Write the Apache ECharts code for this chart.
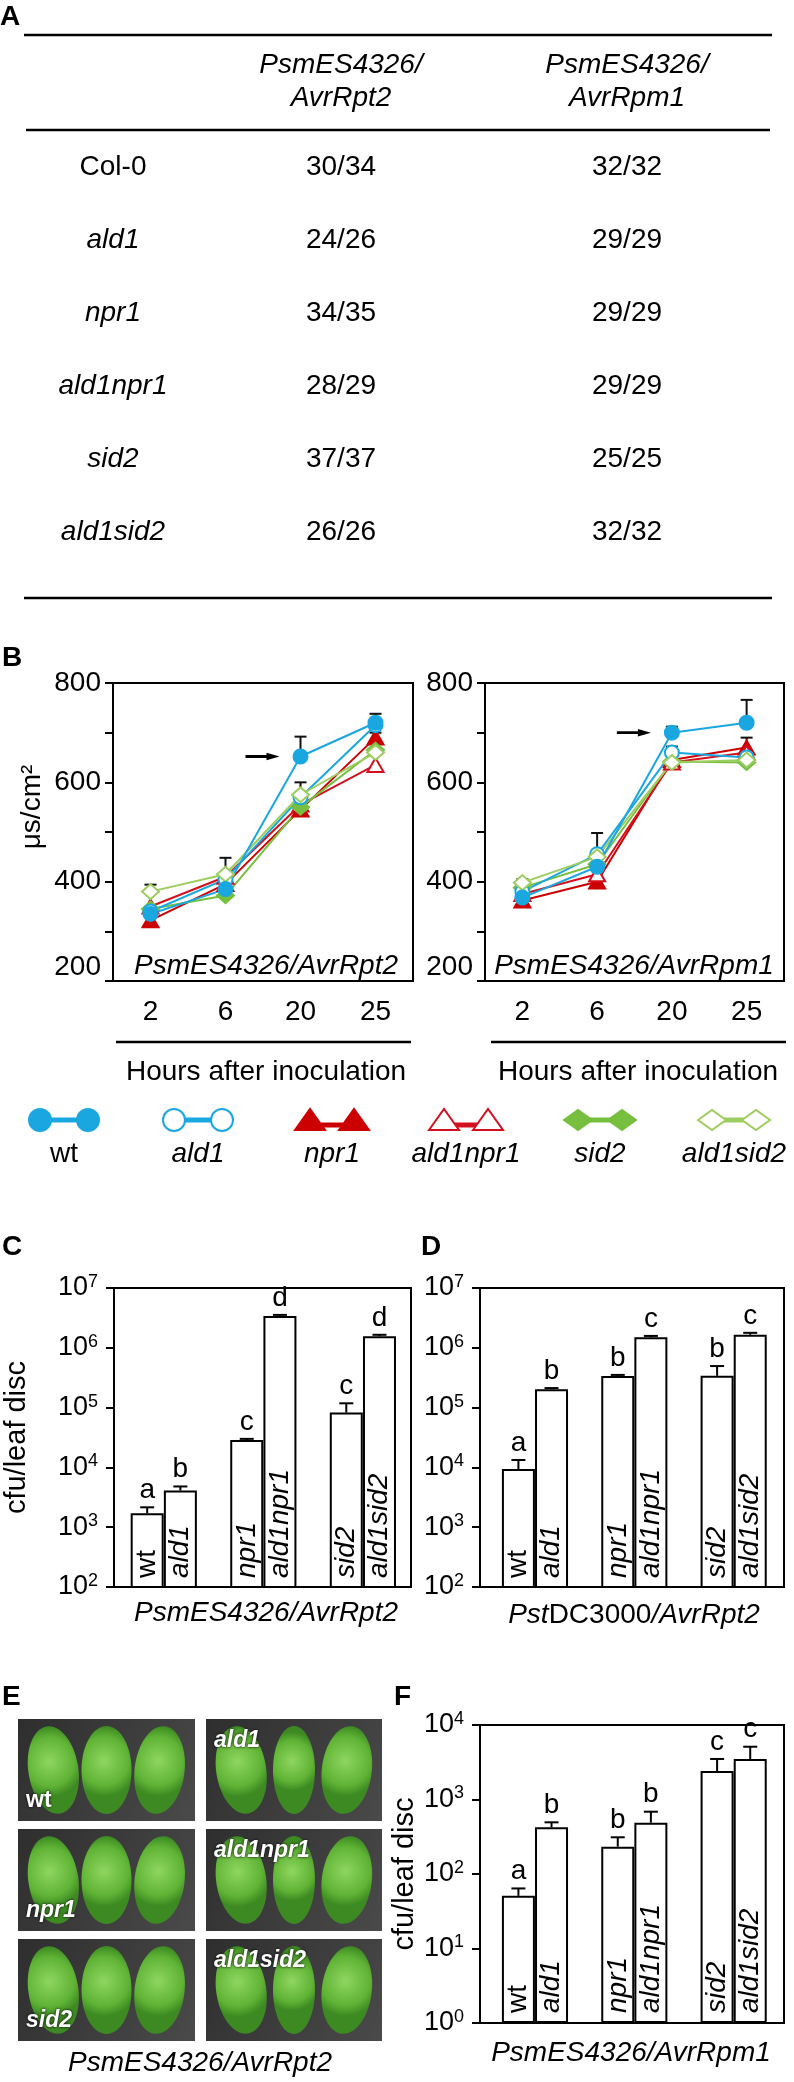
<!DOCTYPE html>
<html>
<head>
<meta charset="utf-8">
<script src="https://cdn.jsdelivr.net/npm/echarts@6/dist/echarts.min.js"></script>
<style>
html,body{margin:0;padding:0;background:#fff;}
#fig{width:794px;height:2082px;}
</style>
</head>
<body>
<div id="fig"></div>
<script>
// ---- table (A) ----
var tableRows = ['Col-0', 'ald1', 'npr1', 'ald1npr1', 'sid2', 'ald1sid2'];
var tableRpt2 = ['30/34', '24/26', '34/35', '28/29', '37/37', '26/26'];
var tableRpm1 = ['32/32', '29/29', '29/29', '29/29', '25/25', '32/32'];

// ---- conductivity (B), order of genotypes ----
var genotypes = ['wt', 'ald1', 'npr1', 'ald1npr1', 'sid2', 'ald1sid2'];
var hours = ['2', '6', '20', '25'];

var rpt2Wt       = [335, 385, 652, 720];
var rpt2Ald1     = [340, 405, 570, 715];
var rpt2Npr1     = [322, 395, 545, 690];
var rpt2Ald1npr1 = [350, 410, 555, 635];
var rpt2Sid2     = [345, 372, 550, 665];
var rpt2Ald1sid2 = [380, 415, 575, 660];

var rpm1Wt       = [368, 430, 700, 720];
var rpm1Ald1     = [380, 455, 660, 650];
var rpm1Npr1     = [362, 400, 645, 670];
var rpm1Ald1npr1 = [375, 415, 640, 660];
var rpm1Sid2     = [388, 435, 642, 640];
var rpm1Ald1sid2 = [398, 450, 640, 645];

// upper error ends: [genotype, hour index, top]
var rpt2Err = [[0, 2, 692], [1, 3, 738], [5, 0, 394], [5, 1, 448], [1, 2, 600], [2, 3, 700]];
var rpm1Err = [[0, 3, 766], [0, 2, 712], [1, 1, 498], [5, 0, 405], [2, 3, 690], [1, 2, 672]];

// ---- bacterial growth (C, D, F) ----
var cMean = [1710, 4100, 28600, 3.4e6, 82600, 1.56e6];
var cTop  = [2150, 4800, 30000, 3.55e6, 118000, 1.65e6];
var cLetters = ['a', 'b', 'c', 'd', 'c', 'd'];

var dMean = [9400, 203000, 337000, 1.5e6, 340000, 1.65e6];
var dTop  = [13300, 212000, 352000, 1.58e6, 495000, 1.78e6];
var dLetters = ['a', 'b', 'b', 'c', 'b', 'c'];

var fMean = [51, 424, 233, 488, 2415, 3500];
var fTop  = [64, 494, 311, 686, 3500, 5110];
var fLetters = ['a', 'b', 'b', 'b', 'c', 'c'];

// ---- styles ----
var FONT = '"Liberation Sans", Arial, Helvetica, sans-serif';
var genoColor  = ['#1aa7e0', '#1aa7e0', '#cc0000', '#d3101e', '#76bf3f', '#9dcd5f'];
var genoSymbol = ['circle', 'circle', 'triangle', 'triangle', 'diamond', 'diamond'];
var genoFilled = [true, false, true, false, true, false];
var drawOrder  = [2, 3, 4, 1, 5, 0];

var rpt2Sets = [rpt2Wt, rpt2Ald1, rpt2Npr1, rpt2Ald1npr1, rpt2Sid2, rpt2Ald1sid2];
var rpm1Sets = [rpm1Wt, rpm1Ald1, rpm1Npr1, rpm1Ald1npr1, rpm1Sid2, rpm1Ald1sid2];

var chart = echarts.init(document.getElementById('fig'));

var grids = [
  {left: 113, top: 683, width: 300, height: 298},
  {left: 485, top: 683, width: 299, height: 298},
  {left: 114, top: 1288, width: 297, height: 299},
  {left: 480, top: 1288, width: 304, height: 299},
  {left: 480, top: 1725, width: 304, height: 298}
].map(function (g) {
  return Object.assign({show: true, borderColor: '#000', borderWidth: 2, containLabel: false}, g);
});

var axisLineStyle = {show: true, onZero: false, lineStyle: {color: '#000', width: 2}};
var tickStyle = {show: true, length: 8, inside: false, lineStyle: {color: '#000', width: 2}};

function hourAxis(gi) {
  return {type: 'category', gridIndex: gi, data: hours, boundaryGap: true,
    axisLine: {show: false}, axisTick: {show: false},
    axisLabel: {fontSize: 28, color: '#000', margin: 17, fontFamily: FONT}};
}
function slotAxis(gi, min, max) {
  return {type: 'value', gridIndex: gi, min: min, max: max, show: false};
}

function msAxis(gi) {
  return {type: 'value', gridIndex: gi, min: 200, max: 800, interval: 100,
    axisLine: axisLineStyle, axisTick: tickStyle, splitLine: {show: false},
    axisLabel: {fontSize: 28, color: '#000', margin: 12, fontFamily: FONT,
      formatter: function (v) {
        if (v % 200 !== 0) return '';
        return v === 200 ? '{lo|200}' : String(v);
      },
      rich: {lo: {fontSize: 28, fontFamily: FONT, color: '#000', padding: [0, 0, 28, 0]}}}};
}

function supLabel(v) {
  var e = Math.round(Math.log(v) / Math.LN10);
  return '{b|10}{s|' + e + '}';
}
var supRich = {
  b: {fontSize: 27, fontFamily: FONT, color: '#000', lineHeight: 30},
  s: {fontSize: 18, fontFamily: FONT, color: '#000', verticalAlign: 'top', lineHeight: 30}
};
function logAxis(gi, min, max, name, gap) {
  var a = {type: 'log', logBase: 10, gridIndex: gi, min: min, max: max,
    axisLine: axisLineStyle, axisTick: tickStyle, splitLine: {show: false},
    minorTick: {show: false},
    axisLabel: {formatter: supLabel, rich: supRich, margin: 16}};
  if (name) {
    a.name = name; a.nameLocation = 'middle'; a.nameGap = gap; a.nameRotate = 90;
    a.nameTextStyle = {fontSize: 29, color: '#000', fontFamily: FONT};
  }
  return a;
}

var xAxes = [hourAxis(0), hourAxis(1), slotAxis(2, -0.5, 8.45), slotAxis(3, -0.66, 8.52), slotAxis(4, -0.66, 8.52)];
var yAxes = [msAxis(0), msAxis(1),
  logAxis(2, 100, 1e7, 'cfu/leaf disc', 83),
  logAxis(3, 100, 1e7, null, 0),
  logAxis(4, 1, 1e4, 'cfu/leaf disc', 61)];

var series = [];

// B: time courses
function addTimeCourse(gi, sets, errs, arrowIdx) {
  series.push({
    type: 'custom', xAxisIndex: gi, yAxisIndex: gi, z: 1,
    data: errs.map(function (e) { return [e[1], sets[e[0]][e[1]], e[2]]; }),
    encode: {x: 0, y: [1, 2]},
    renderItem: function (params, api) {
      var p0 = api.coord([api.value(0), api.value(1)]);
      var p1 = api.coord([api.value(0), api.value(2)]);
      return {type: 'group', children: [
        {type: 'line', shape: {x1: p0[0], y1: p0[1], x2: p1[0], y2: p1[1]}, style: {stroke: '#111', lineWidth: 2}},
        {type: 'line', shape: {x1: p1[0] - 6, y1: p1[1], x2: p1[0] + 6, y2: p1[1]}, style: {stroke: '#111', lineWidth: 2}}
      ]};
    }
  });
  drawOrder.forEach(function (g) {
    var s = {
      type: 'line', name: genotypes[g], xAxisIndex: gi, yAxisIndex: gi, z: 2,
      data: sets[g], symbol: genoSymbol[g],
      symbolSize: genoSymbol[g] === 'diamond' ? [17, 15] : (genoSymbol[g] === 'triangle' ? [16, 14] : 14),
      showAllSymbol: true,
      lineStyle: {color: genoColor[g], width: 2},
      itemStyle: {color: genoFilled[g] ? genoColor[g] : '#fff', borderColor: genoColor[g], borderWidth: 2}
    };
    if (g === 0) {
      s.markPoint = {
        symbol: 'path://M0,5L21,5L21,0L34,8L21,16L21,11L0,11Z',
        symbolSize: [34, 16], symbolOffset: [-38, 0], symbolKeepAspect: true,
        itemStyle: {color: '#000'}, label: {show: false},
        data: [{coord: [arrowIdx, sets[0][arrowIdx]]}]
      };
    }
    series.push(s);
  });
}
addTimeCourse(0, rpt2Sets, rpt2Err, 2);
addTimeCourse(1, rpm1Sets, rpm1Err, 2);

// C, D, F: bars with upper error bars and letters
function slotX(i) { return Math.floor(i / 2) * 3 + (i % 2) + 0.5; }

function addBars(gi, means, tops, letters) {
  series.push({
    type: 'bar', xAxisIndex: gi, yAxisIndex: gi, barWidth: 33, z: 2,
    data: means.map(function (v, i) { return [slotX(i), v]; }),
    itemStyle: {color: '#fff', borderColor: '#000', borderWidth: 2},
    label: {
      show: true, position: 'insideBottom', rotate: 90, align: 'left', verticalAlign: 'middle', distance: 10,
      formatter: function (p) {
        var n = genotypes[p.dataIndex];
        return n === 'wt' ? '{n|wt}' : '{i|' + n + '}';
      },
      rich: {
        n: {fontSize: 28, fontFamily: FONT, color: '#000'},
        i: {fontSize: 28, fontFamily: FONT, color: '#000', fontStyle: 'italic'}
      }
    }
  });
  series.push({
    type: 'custom', xAxisIndex: gi, yAxisIndex: gi, z: 3,
    data: means.map(function (v, i) { return [slotX(i), v, tops[i]]; }),
    encode: {x: 0, y: [1, 2]},
    renderItem: function (params, api) {
      var p0 = api.coord([api.value(0), api.value(1)]);
      var p1 = api.coord([api.value(0), api.value(2)]);
      return {type: 'group', children: [
        {type: 'line', shape: {x1: p0[0], y1: p0[1], x2: p1[0], y2: p1[1]}, style: {stroke: '#000', lineWidth: 2}},
        {type: 'line', shape: {x1: p1[0] - 7, y1: p1[1], x2: p1[0] + 7, y2: p1[1]}, style: {stroke: '#000', lineWidth: 2}},
        {type: 'text', x: p1[0], y: p1[1] - 3, style: {text: letters[params.dataIndex], fill: '#000',
          fontSize: 28, fontFamily: FONT, align: 'center', verticalAlign: 'bottom'}}
      ]};
    }
  });
}
addBars(2, cMean, cTop, cLetters);
addBars(3, dMean, dTop, dLetters);
addBars(4, fMean, fTop, fLetters);

// ---- graphic: table, labels, legend, photos ----
var g = [];
var rich = {
  i: {fontSize: 28, fontFamily: FONT, fill: '#000', fontStyle: 'italic'},
  n: {fontSize: 28, fontFamily: FONT, fill: '#000'}
};
function gText(x, y, text, o) {
  o = o || {};
  return {type: 'text', x: x, y: y, rotation: o.rotation || 0, z: 10, silent: true,
    style: {text: text, fill: o.fill || '#000', fontSize: o.size || 28, fontFamily: FONT,
      fontStyle: o.italic ? 'italic' : 'normal', fontWeight: o.bold ? 'bold' : 'normal',
      align: o.align || 'center', verticalAlign: o.va || 'middle', rich: rich,
      textShadowColor: o.shadow || 'transparent', textShadowBlur: o.shadow ? 3 : 0}};
}
function gLine(x1, y1, x2, y2, w) {
  return {type: 'line', z: 10, silent: true, shape: {x1: x1, y1: y1, x2: x2, y2: y2}, style: {stroke: '#000', lineWidth: w || 2}};
}

// panel letters
[['A', 0, 17], ['B', 2, 658], ['C', 2, 1247], ['D', 421, 1247], ['E', 2, 1697], ['F', 394, 1697]].forEach(function (p) {
  g.push(gText(p[1], p[2], p[0], {bold: true, align: 'left'}));
});

// table A
g.push(gLine(24, 35, 772, 35, 2.5));
g.push(gLine(26, 130, 770, 130, 2.5));
g.push(gLine(24, 598, 772, 598, 2.5));
g.push(gText(341, 65, 'PsmES4326/', {italic: true}));
g.push(gText(341, 98, 'AvrRpt2', {italic: true}));
g.push(gText(627, 65, 'PsmES4326/', {italic: true}));
g.push(gText(627, 98, 'AvrRpm1', {italic: true}));
tableRows.forEach(function (r, i) {
  var y = 167 + i * 73;
  g.push(gText(113, y, r, {italic: r !== 'Col-0'}));
  g.push(gText(341, y, tableRpt2[i]));
  g.push(gText(627, y, tableRpm1[i]));
});

// B annotations
g.push(gText(32, 807, 'μs/cm²', {rotation: Math.PI / 2}));
g.push(gText(266, 966, 'PsmES4326/AvrRpt2', {italic: true}));
g.push(gText(634, 966, 'PsmES4326/AvrRpm1', {italic: true}));
g.push(gLine(116, 1042, 411, 1042, 2.5));
g.push(gLine(491, 1042, 786, 1042, 2.5));
g.push(gText(266, 1072, 'Hours after inoculation'));
g.push(gText(638, 1072, 'Hours after inoculation'));

// legend
genotypes.forEach(function (name, k) {
  var cx = 64 + k * 134, cy = 1120, d = genoSymbol[k] === 'circle' ? 24 : 22;
  var col = genoColor[k], fill = genoFilled[k] ? col : '#fff';
  var ly = genoSymbol[k] === 'triangle' ? cy + 5 : cy;
  g.push({type: 'line', z: 10, silent: true, shape: {x1: cx - d, y1: ly, x2: cx + d, y2: ly}, style: {stroke: col, lineWidth: 5}});
  [cx - d, cx + d].forEach(function (mx) {
    var el;
    if (genoSymbol[k] === 'circle') {
      el = {type: 'circle', shape: {cx: mx, cy: cy, r: 11}};
    } else if (genoSymbol[k] === 'triangle') {
      el = {type: 'polygon', shape: {points: [[mx - 15, cy + 10], [mx, cy - 11], [mx + 15, cy + 10]]}};
    } else {
      el = {type: 'polygon', shape: {points: [[mx - 14, cy], [mx, cy - 10], [mx + 14, cy], [mx, cy + 10]]}};
    }
    el.z = 11; el.silent = true;
    el.style = {fill: fill, stroke: col, lineWidth: 2};
    g.push(el);
  });
  g.push(gText(cx, 1154, name, {italic: name !== 'wt'}));
});

// captions
g.push(gText(266, 1613, 'PsmES4326/AvrRpt2', {italic: true}));
g.push(gText(634, 1615, '{i|Pst}{n|DC3000}{i|/AvrRpt2}'));
g.push(gText(631, 2053, 'PsmES4326/AvrRpm1', {italic: true}));
g.push(gText(200, 2063, 'PsmES4326/AvrRpt2', {italic: true}));

// E: leaf photographs (drawn schematically)
var photoX = [18, 206], photoW = [177, 176];
genotypes.forEach(function (name, k) {
  var col = k % 2, row = Math.floor(k / 2);
  var x = photoX[col], w = photoW[col], y = 1719 + row * 110, h = 102;
  g.push({type: 'rect', z: 5, silent: true, shape: {x: x, y: y, width: w, height: h},
    style: {fill: new echarts.graphic.LinearGradient(0, 0, 1, 1, [
      {offset: 0, color: '#2e2e2e'}, {offset: 1, color: '#4a4a4a'}])}});
  [0.2, 0.5, 0.8].forEach(function (fx, j) {
    g.push({type: 'ellipse', z: 6, silent: true, x: x + w * fx, y: y + h * 0.5,
      rotation: [0.15, 0, -0.12][j],
      shape: {cx: 0, cy: 0, rx: 25 - (j === 1 && col === 1 ? 4 : 0), ry: 44},
      style: {fill: new echarts.graphic.RadialGradient(0.45, 0.4, 0.7, [
        {offset: 0, color: '#8fd660'}, {offset: 0.7, color: '#5fb335'}, {offset: 1, color: '#3d8a22'}])}});
  });
  var lx = x + 8, lyy = col === 0 ? y + h - 20 : y + 22;
  g.push(gText(lx, lyy, name, {size: 23, bold: true, italic: name !== 'wt', align: 'left', fill: '#fff', shadow: '#000'}));
});

chart.setOption({
  animation: false,
  grid: grids,
  xAxis: xAxes,
  yAxis: yAxes,
  series: series,
  graphic: {elements: g}
});
</script>
</body>
</html>
